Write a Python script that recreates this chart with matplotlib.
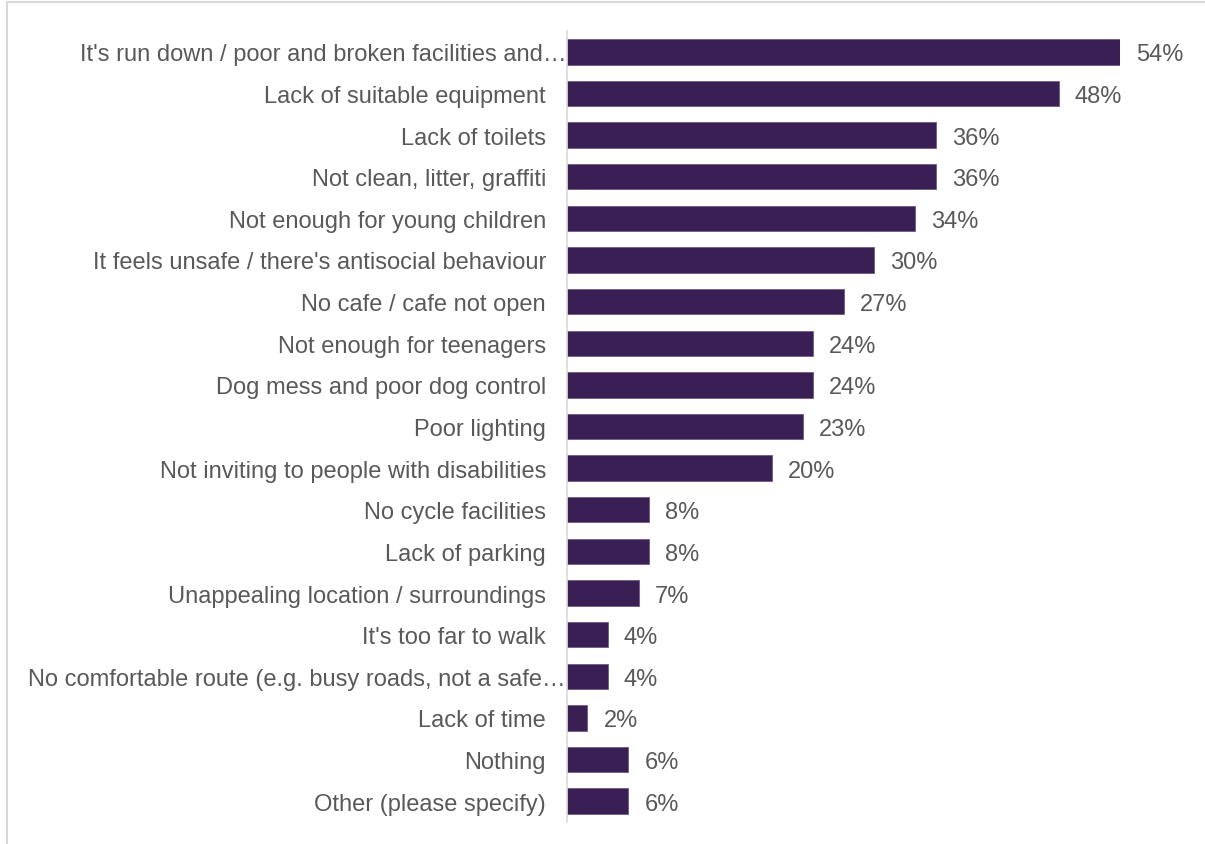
import matplotlib
matplotlib.use("Agg")
import matplotlib.pyplot as plt
from matplotlib.lines import Line2D
from matplotlib.transforms import blended_transform_factory, offset_copy

categories = [
    "It's run down / poor and broken facilities and\u2026",
    "Lack of suitable equipment",
    "Lack of toilets",
    "Not clean, litter, graffiti",
    "Not enough for young children",
    "It feels unsafe / there's antisocial behaviour",
    "No cafe / cafe not open",
    "Not enough for teenagers",
    "Dog mess and poor dog control",
    "Poor lighting",
    "Not inviting to people with disabilities",
    "No cycle facilities",
    "Lack of parking",
    "Unappealing location / surroundings",
    "It's too far to walk",
    "No comfortable route (e.g. busy roads, not a safe\u2026",
    "Lack of time",
    "Nothing",
    "Other (please specify)",
]
values = [54, 48, 36, 36, 34, 30, 27, 24, 24, 23, 20, 8, 8, 7, 4, 4, 2, 6, 6]

plt.rcParams['font.family'] = ['Liberation Sans', 'DejaVu Sans']
text_color = '#595959'
bar_color = '#3A1F55'

W, H = 1205, 845
fig = plt.figure(figsize=(W / 100, H / 100), dpi=100)
ax = fig.add_axes([567 / W, 1 - 823 / H, (1120 - 567) / W, (823 - 32) / H])

n = len(categories)
ypos = list(range(n))
ax.barh(ypos, values, height=0.61, color=bar_color, edgecolor='#6e5a85', linewidth=0.6)
ax.set_ylim(n - 0.5, -0.5)
ax.set_xlim(0, 54)
ax.set_yticks([])
ax.set_xticks([])
for s in ['top', 'right', 'bottom']:
    ax.spines[s].set_visible(False)
ax.spines['left'].set_color('#d9d9d9')
ax.spines['left'].set_linewidth(1.2)

# category labels (truncated ones sit right against the axis)
base = blended_transform_factory(ax.transAxes, ax.transData)
for y, lab in zip(ypos, categories):
    gap = 1 if lab.endswith('\u2026') else 21
    tr = offset_copy(base, fig=fig, x=-gap, y=0, units='dots')
    ax.text(0, y, lab, transform=tr, ha='right', va='center_baseline',
            fontsize=17, color=text_color)

for y, v in zip(ypos, values):
    ax.annotate(f"{v}%", xy=(v, y), xytext=(16, 0), textcoords='offset pixels',
                va='center_baseline', ha='left', fontsize=17, color=text_color)

# outer light border (left and top)
fig.add_artist(Line2D([7 / W, 7 / W], [0, 1 - 3 / H], color='#d9d9d9', lw=1.5, transform=fig.transFigure))
fig.add_artist(Line2D([7 / W, 1], [1 - 3 / H, 1 - 3 / H], color='#d9d9d9', lw=1.5, transform=fig.transFigure))

fig.savefig("out.png", dpi=100)
